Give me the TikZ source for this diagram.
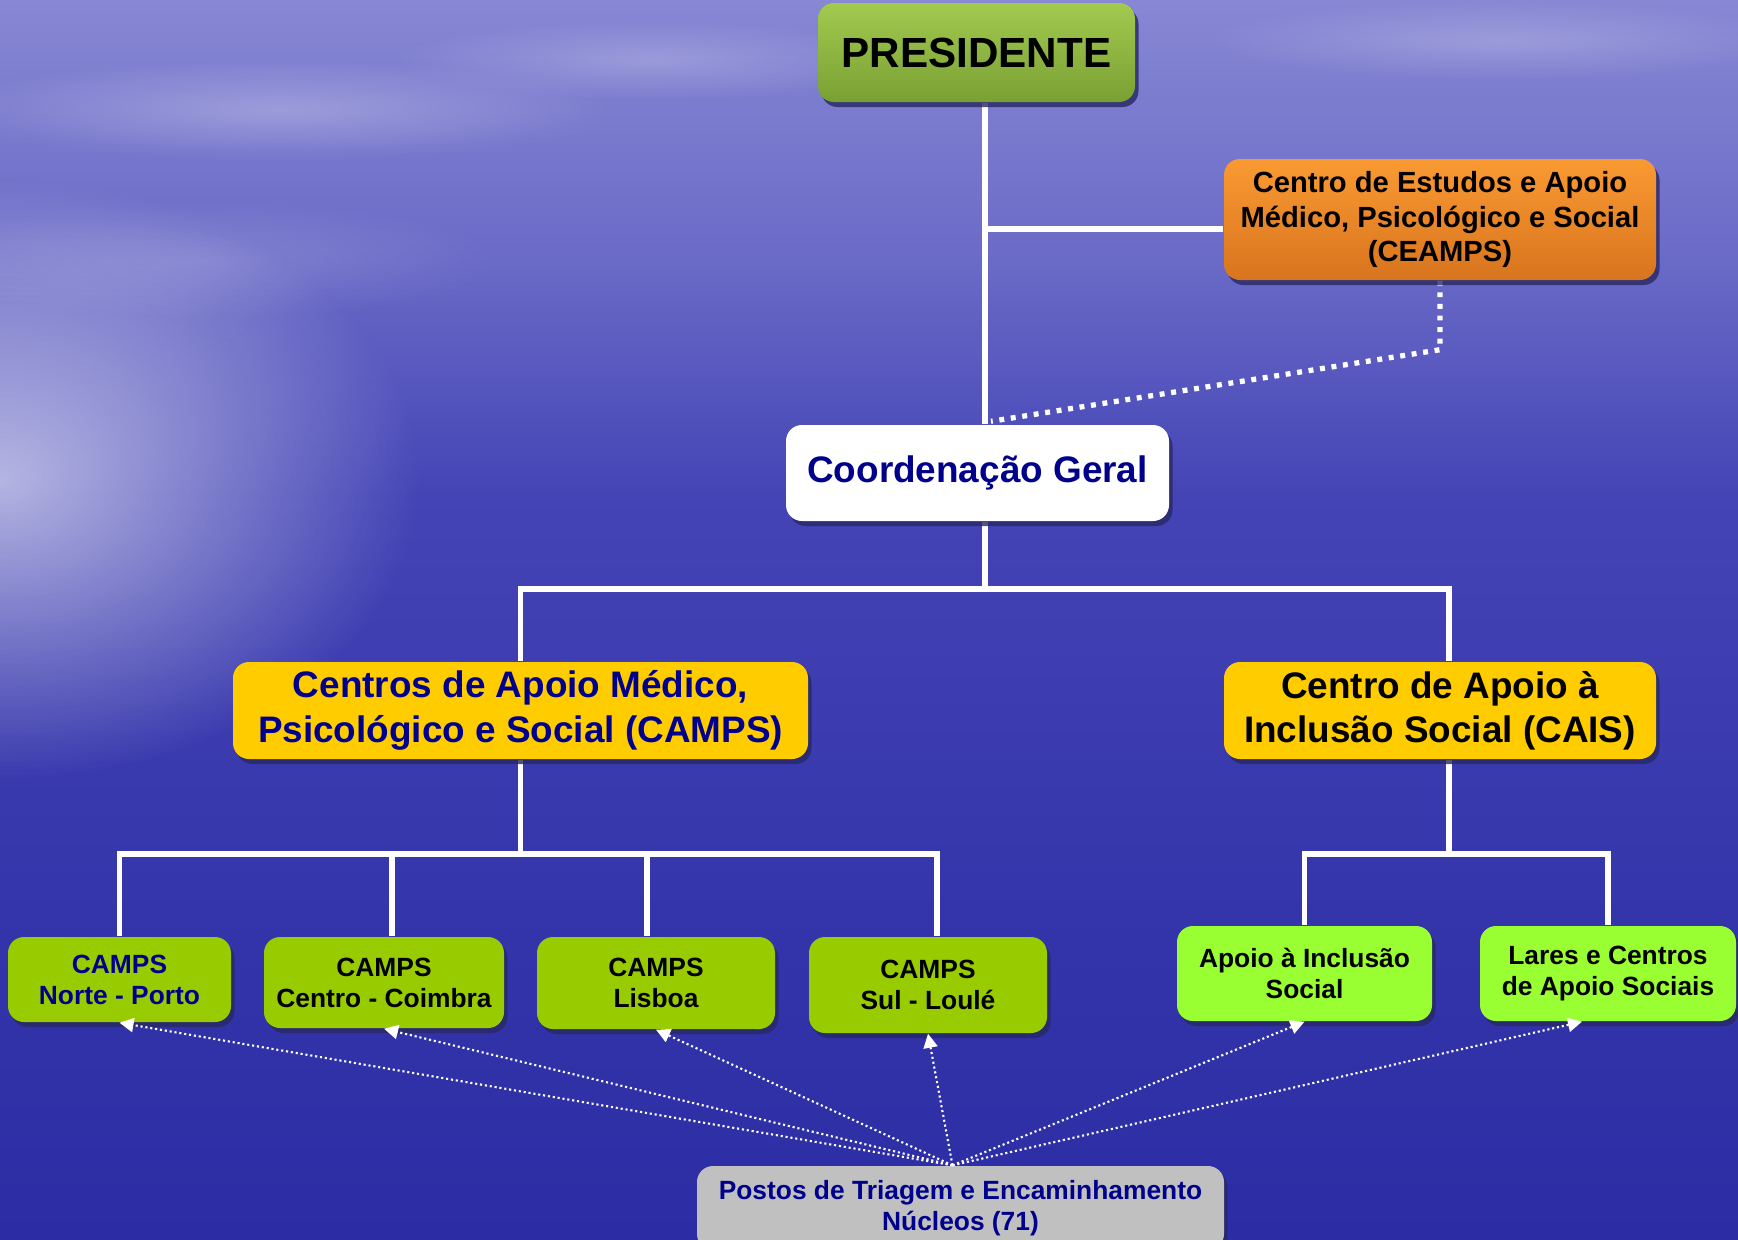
\documentclass[tikz,border=0pt]{standalone}
\usepackage{fontspec}
\setmainfont{Liberation Sans}
\usepackage{xcolor}
\usetikzlibrary{arrows.meta,calc,positioning,shadows,fadings}
\definecolor{navy}{RGB}{0,0,140}
\definecolor{skytop}{RGB}{135,135,212}
\definecolor{seahigh}{RGB}{108,108,200}
\definecolor{seamid}{RGB}{68,68,182}
\definecolor{seadeep}{RGB}{52,52,170}
\definecolor{seabot}{RGB}{44,44,164}
\definecolor{shadowblue}{RGB}{40,40,100}
\definecolor{greentop}{RGB}{162,202,78}
\definecolor{greenbot}{RGB}{122,160,52}
\definecolor{orangetop}{RGB}{250,154,50}
\definecolor{orangebot}{RGB}{216,116,30}
\definecolor{campsyellow}{RGB}{255,204,0}
\definecolor{campsgreen}{RGB}{153,204,0}
\definecolor{caisgreen}{RGB}{153,255,51}
\definecolor{postgrey}{RGB}{192,192,192}
\pgfdeclareverticalshading{seasky}{100bp}{color(0bp)=(seabot); color(25bp)=(seabot); color(37bp)=(seadeep); color(55bp)=(seamid); color(65bp)=(seahigh); color(75bp)=(skytop); color(100bp)=(skytop)}
\tikzfading[name=glowfade, inner color=transparent!0, outer color=transparent!100]
\pgfdeclarelayer{bg}
\pgfdeclarelayer{edgelayer}
\pgfsetlayers{bg,edgelayer,main}
\newcommand{\bigtext}{\fontsize{10.5}{12.6}\selectfont\bfseries}
\newcommand{\smalltext}{\fontsize{7.5}{8.8}\selectfont\bfseries}

\begin{document}
\begin{tikzpicture}[x=0.1mm,y=-0.1mm,
box/.style={rounded corners=1.6mm,align=center,inner sep=2pt,
  drop shadow={shadow xshift=0.35mm,shadow yshift=-0.5mm,fill=shadowblue,opacity=0.8}},
link/.style={draw=white,line width=1.6pt},
hint/.style={draw=white,line width=1.5pt,dash pattern=on 1.4pt off 1.9pt},
feed/.style={draw=white,line width=0.6pt,dash pattern=on 0.6pt off 0.8pt,
  -{Triangle[length=4pt,width=4pt,fill=white,color=white]}}]
\useasboundingbox (0,0) rectangle (1738,1239);
\begin{pgfonlayer}{bg}
\shade[shading=seasky] (0,0) rectangle (1738,1239);
\fill[white,opacity=0.6,path fading=glowfade] (0,480) ellipse (42mm and 30mm);
\fill[white,opacity=0.25,path fading=glowfade] (280,110) ellipse (34mm and 5mm);
\fill[white,opacity=0.2,path fading=glowfade] (650,60) ellipse (26mm and 4mm);
\fill[white,opacity=0.2,path fading=glowfade] (1500,40) ellipse (30mm and 4mm);
\fill[white,opacity=0.15,path fading=glowfade] (200,260) ellipse (30mm and 6mm);
\end{pgfonlayer}

\node[box,top color=greentop,bottom color=greenbot,minimum width=31.7mm,minimum height=9.9mm,
  font=\fontsize{12}{14}\selectfont\bfseries] (pres) at (976.5,52.5) {PRESIDENTE};
\node[box,top color=orangetop,bottom color=orangebot,minimum width=43.2mm,minimum height=12.1mm,
  font=\fontsize{8.3}{9.8}\selectfont\bfseries] (ceamps) at (1440,219.5)
  {Centro de Estudos e Apoio\\Médico, Psicológico e Social\\(CEAMPS)};
\node[box,fill=white,text=navy,minimum width=38.3mm,minimum height=9.6mm,font=\bigtext]
  (coord) at (977.5,473) {Coordenação Geral};
\node[box,fill=campsyellow,text=navy,minimum width=57.5mm,minimum height=9.7mm,font=\bigtext]
  (camps) at (520.5,710.5) {Centros de Apoio Médico,\\Psicológico e Social (CAMPS)};
\node[box,fill=campsyellow,minimum width=43.2mm,minimum height=9.7mm,font=\bigtext]
  (cais) at (1440,710.5) {Centro de Apoio à\\Inclusão Social (CAIS)};

% CAMPS regionais
\node[box,fill=campsgreen,text=navy,minimum width=22.3mm,minimum height=8.5mm,font=\smalltext]
  (norte) at (119.5,979.5) {CAMPS\\Norte - Porto};
\node[box,fill=campsgreen,minimum width=24mm,minimum height=9.1mm,font=\smalltext]
  (coimbra) at (384,982.5) {CAMPS\\Centro - Coimbra};
\node[box,fill=campsgreen,minimum width=23.8mm,minimum height=9.2mm,font=\smalltext]
  (lisboa) at (656,983) {CAMPS\\Lisboa};
\node[box,fill=campsgreen,minimum width=23.8mm,minimum height=9.6mm,font=\smalltext]
  (sul) at (928,985) {CAMPS\\Sul - Loulé};
\node[box,fill=caisgreen,minimum width=25.5mm,minimum height=9.5mm,font=\smalltext]
  (apoio) at (1304.5,973.5) {Apoio à Inclusão\\Social};
\node[box,fill=caisgreen,minimum width=25.6mm,minimum height=9.5mm,font=\smalltext]
  (lares) at (1608,973.5) {Lares e Centros\\de Apoio Sociais};
\node[box,fill=postgrey,text=navy,minimum width=52.7mm,minimum height=8.4mm,font=\smalltext]
  (postos) at (960.5,1208) {Postos de Triagem e Encaminhamento\\Núcleos (71)};

\coordinate (trunk) at (985,0);
\coordinate (midbar) at (1449,589);
\coordinate (lowbar) at (0,854);
\coordinate (apex) at ([xshift=-0.8mm]postos.north);

\begin{pgfonlayer}{edgelayer}
\draw[link] (pres.south -| trunk) -- (coord.north -| trunk);
\draw[link] (trunk |- ceamps.west) ++(0,9.5) -- ($(ceamps.west)+(0,9.5)$);
\draw[hint] (ceamps.south) -- ++(0,69) -- ($(coord.north -| trunk)+(6,-3)$);
\draw[link] (coord.south -| trunk) -- (trunk |- midbar);
\draw[link] (camps.north) |- (midbar) -- (midbar |- cais.north);
\draw[link] (camps.south) -- (camps.south |- lowbar);
\draw[link] (norte.north) |- ([xshift=0.9mm]sul.north |- lowbar) -- ([xshift=0.9mm]sul.north);
\foreach \n/\s in {coimbra/0.8mm,lisboa/-0.9mm}
  \draw[link] ([xshift=\s]\n.north) -- ([xshift=\s]\n.north |- lowbar);
\draw[link] (cais.south -| midbar) -- (midbar |- lowbar);
\draw[link] (apoio.north) |- (lares.north |- lowbar) -- (lares.north);
\end{pgfonlayer}

\path (apex)
  edge[feed] (norte.south)
  edge[feed] (coimbra.south)
  edge[feed] (lisboa.south)
  edge[feed] (sul.south)
  edge[feed] (apoio.south)
  edge[feed] ([xshift=-2.6mm]lares.south);
\end{tikzpicture}
\end{document}
